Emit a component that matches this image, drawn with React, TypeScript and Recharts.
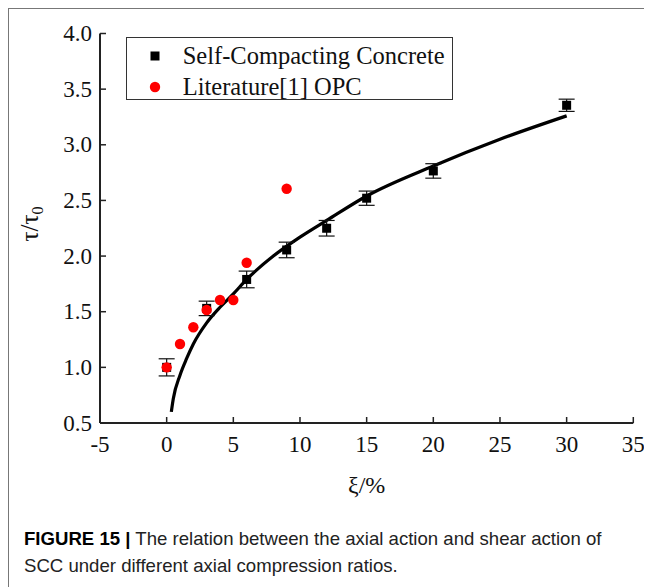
import React from 'react';
import { ComposedChart, Scatter, Line, XAxis, YAxis, ErrorBar, Legend, Label } from 'recharts';

// Self-compacting concrete: axial compression ratio (%) vs. normalised shear strength
const sccX = [0, 3, 6, 9, 12, 15, 20, 30];
const sccY = [1.0, 1.53, 1.79, 2.055, 2.25, 2.52, 2.765, 3.355];
const sccErr = [0.077, 0.065, 0.075, 0.07, 0.07, 0.064, 0.065, 0.055];

// Literature [1] ordinary Portland cement results
const opcX = [0, 1, 2, 3, 4, 5, 6, 9];
const opcY = [1.0, 1.21, 1.36, 1.515, 1.605, 1.605, 1.94, 2.605];

// fitted curve through the SCC results
const fitX = [0.35, 0.5, 1, 1.5, 2, 3, 4, 5, 6, 8, 10, 12, 15, 20, 25, 30];
const fitY = [0.6, 0.72, 0.93, 1.08, 1.21, 1.4, 1.54, 1.66, 1.79, 2.0, 2.17, 2.32, 2.54, 2.81, 3.05, 3.26];

const xTicks = [-5, 0, 5, 10, 15, 20, 25, 30, 35];
const yTicks = [0.5, 1.0, 1.5, 2.0, 2.5, 3.0, 3.5, 4.0];

const SCC_NAME = 'Self-Compacting Concrete';
const OPC_NAME = 'Literature[1] OPC';
const legendOrder = [SCC_NAME, OPC_NAME];

const sccData = sccX.map((x, i) => ({ x, y: sccY[i], err: sccErr[i] }));
const opcData = opcX.map((x, i) => ({ x, y: opcY[i] }));
const fitData = fitX.map((x, i) => ({ x, y: fitY[i] }));

const SERIF = '"Liberation Serif", "Times New Roman", serif';
const AXIS = '#222';

const SquareDot = (p: any) => (
  <rect x={p.cx - 4.5} y={p.cy - 4.5} width={9} height={9} fill="#000" />
);
const RedDot = (p: any) => <circle cx={p.cx} cy={p.cy} r={5.2} fill="#ff0000" />;

// ticks point into the plot, labels sit outside
const YTick = ({ x, y, payload }: any) => (
  <g>
    <line x1={x + 8} x2={x + 14} y1={y} y2={y} stroke={AXIS} strokeWidth={1.5} />
    <text x={x} y={y} dy={7.5} textAnchor="end" fontFamily={SERIF} fontSize={23} fill="#111">
      {payload.value.toFixed(1)}
    </text>
  </g>
);

const XTick = ({ x, y, payload }: any) => (
  <g>
    <line x1={x} x2={x} y1={y} y2={y - 6} stroke={AXIS} strokeWidth={1.5} />
    <text x={x} y={y + 29} textAnchor="middle" fontFamily={SERIF} fontSize={23} fill="#111">
      {payload.value}
    </text>
  </g>
);

const LegendBox = ({ payload }: any) => {
  const items = legendOrder
    .map((name) => (payload || []).find((e: any) => e.value === name))
    .filter(Boolean);
  return (
    <div
      style={{
        position: 'relative',
        width: 327,
        height: 63,
        boxSizing: 'border-box',
        border: '1px solid #333',
        background: '#fff',
        fontFamily: SERIF,
        fontSize: 24.5,
        color: '#111',
      }}
    >
      {items.map((entry: any, i: number) => (
        <div
          key={entry.value}
          style={{
            position: 'absolute',
            left: 0,
            top: 2 + i * 31.7,
            height: 32,
            display: 'flex',
            alignItems: 'center',
            whiteSpace: 'nowrap',
          }}
        >
          <svg width={56} height={32} style={{ display: 'block' }}>
            {entry.value === SCC_NAME ? (
              <rect x={23.5} y={11.5} width={9} height={9} fill="#000" />
            ) : (
              <circle cx={28} cy={16} r={5.2} fill="#ff0000" />
            )}
          </svg>
          <span>{entry.value}</span>
        </div>
      ))}
    </div>
  );
};

export default function App() {
  return (
    <div style={{ position: 'relative', width: 644, height: 579, background: '#fff' }}>
      <div
        style={{
          position: 'absolute',
          left: 0,
          top: 0,
          width: 644,
          height: 579,
          boxSizing: 'border-box',
          borderTop: '1.5px solid #777',
          borderLeft: '1px solid #777',
          pointerEvents: 'none',
        }}
      />
      <div style={{ position: 'absolute', left: 0, top: 0 }}>
        <ComposedChart
          width={644}
          height={500}
          margin={{ top: 25.5, right: 18.7, bottom: 15, left: 32 }}
        >
          <XAxis
            type="number"
            dataKey="x"
            domain={[-5, 35]}
            ticks={xTicks}
            interval={0}
            height={70}
            tickSize={0}
            tickMargin={0}
            tickLine={false}
            axisLine={{ stroke: AXIS, strokeWidth: 2 }}
            tick={<XTick />}
            allowDataOverflow
          >
            <Label
              content={({ viewBox }: any) => (
                <text
                  x={viewBox.x + viewBox.width / 2}
                  y={viewBox.y + 70}
                  textAnchor="middle"
                  fontFamily={SERIF}
                  fontSize={24}
                  fill="#111"
                >
                  ξ/%
                </text>
              )}
            />
          </XAxis>
          <YAxis
            type="number"
            dataKey="y"
            domain={[0.5, 4.0]}
            ticks={yTicks}
            interval={0}
            width={60}
            tickSize={0}
            tickMargin={8}
            tickLine={false}
            axisLine={{ stroke: AXIS, strokeWidth: 2 }}
            tick={<YTick />}
            allowDataOverflow
          >
            <Label
              content={() => (
                <text
                  transform="translate(30, 216) rotate(-90)"
                  textAnchor="middle"
                  fontFamily={SERIF}
                  fontSize={25}
                  fill="#111"
                >
                  τ/τ
                  <tspan fontSize={16} dy={5}>0</tspan>
                </text>
              )}
            />
          </YAxis>
          <Legend
            layout="vertical"
            align="center"
            verticalAlign="middle"
            content={<LegendBox />}
            wrapperStyle={{ left: 117.7, top: 28.7, width: 'auto' }}
          />
          <Line
            data={fitData}
            dataKey="y"
            type="monotone"
            stroke="#000"
            strokeWidth={3.2}
            dot={false}
            activeDot={false}
            legendType="none"
            isAnimationActive={false}
          />
          <Scatter
            name={SCC_NAME}
            data={sccData}
            dataKey="y"
            fill="#000"
            shape={SquareDot}
            isAnimationActive={false}
          >
            <ErrorBar dataKey="err" direction="y" width={8} stroke="#111" strokeWidth={1.2} />
          </Scatter>
          <Scatter
            name={OPC_NAME}
            data={opcData}
            dataKey="y"
            fill="#ff0000"
            shape={RedDot}
            isAnimationActive={false}
          />
        </ComposedChart>
      </div>
      <div
        style={{
          position: 'absolute',
          left: 16,
          top: 517,
          width: 630,
          fontFamily: '"Liberation Sans", Arial, sans-serif',
          fontSize: 18.6,
          lineHeight: '27px',
          color: '#222',
          whiteSpace: 'nowrap',
        }}
      >
        <b style={{ color: '#000' }}>FIGURE 15 |</b> The relation between the axial action and shear action of
        <br />
        SCC under different axial compression ratios.
      </div>
    </div>
  );
}
